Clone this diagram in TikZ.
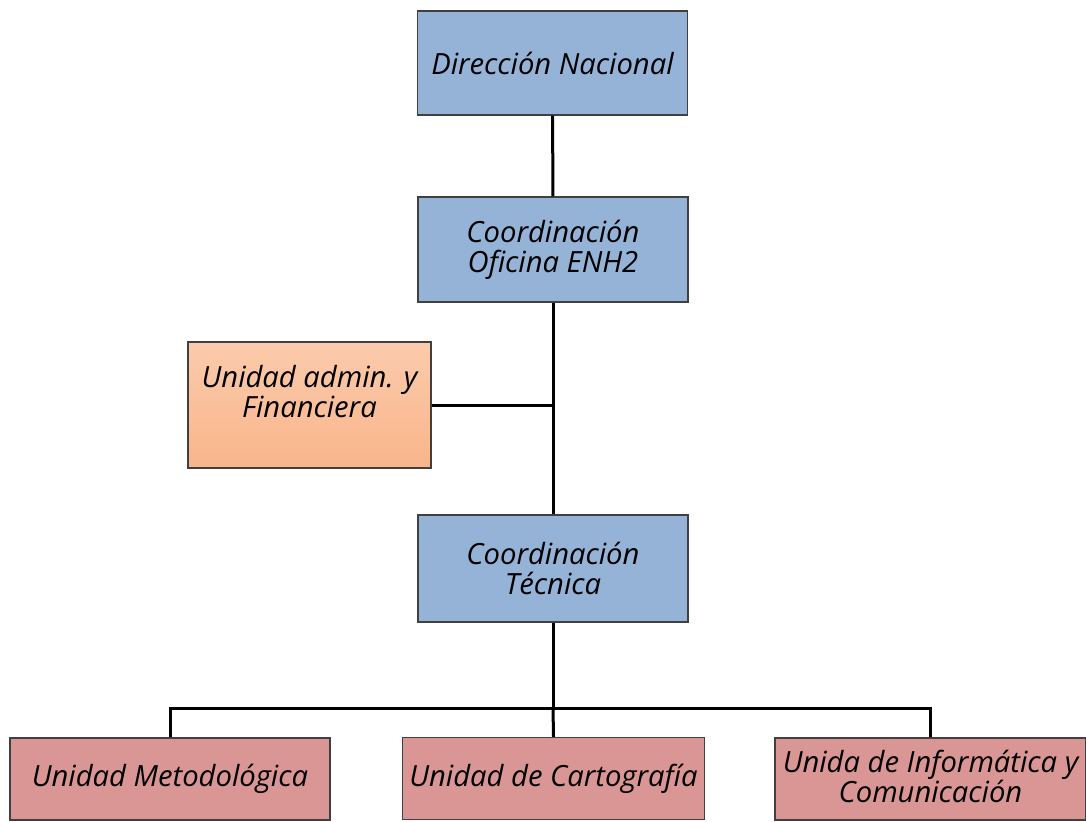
\documentclass[tikz,border=0pt]{standalone}
\usepackage{fontspec}
\setmainfont{Open Sans}
\definecolor{azul}{HTML}{95B3D7}
\definecolor{rosa}{HTML}{D99694}
\definecolor{naranjaA}{HTML}{FBCBAC}
\definecolor{naranjaB}{HTML}{F9B58B}

\begin{document}
\begin{tikzpicture}[x=0.5pt,y=-0.5pt,
  caja/.style={rectangle,draw=black!75,line width=0.6pt,align=center,inner sep=2pt,
    font=\fontsize{14.6}{15}\selectfont\itshape},
  azul/.style={caja,fill=azul,minimum width=135pt,minimum height=52pt},
  rosa/.style={caja,fill=rosa,minimum height=41pt},
  linea/.style={line width=1.5pt}]
  \useasboundingbox (0,0) rectangle (1086,821);
  \node[azul] (dir) at (552.5,63) {Dirección Nacional};
  \node[azul,minimum height=52.5pt] (ofi) at (553,249.5) {Coordinación\\Oficina ENH2};
  \node[caja,top color=naranjaA,bottom color=naranjaB,minimum width=121.5pt,minimum height=63pt,
    text depth=14pt] (adm) at (309.5,405) {Unidad admin. y\\Financiera};
  \node[azul,minimum height=53.5pt] (tec) at (553,568.5) {Coordinación\\Técnica};
  \node[rosa,minimum width=160pt] (met) at (170,779) {Unidad Metodológica};
  \node[rosa,minimum width=151pt] (car) at (553.5,778.5) {Unidad de Cartografía};
  \node[rosa,minimum width=155.5pt,text depth=3pt] (inf) at (930.5,779) {Unida de Informática y\\Comunicación};
  \coordinate (bus) at (553,708);
  \draw[linea] (dir) -- (ofi);
  \draw[linea] (ofi) -- (tec);
  \draw[linea] (adm.east) -- (adm.east -| ofi.south);
  \draw[linea] (tec) -- (bus);
  \draw[linea] (met.north) |- (bus) -| (inf.north);
  \draw[linea] (bus) -- (car.north);
\end{tikzpicture}
\end{document}
